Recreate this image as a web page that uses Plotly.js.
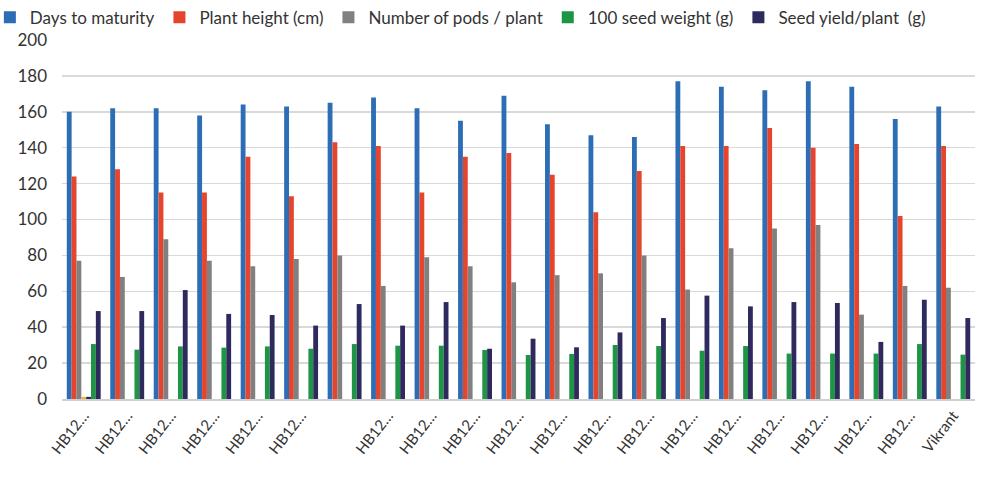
<!DOCTYPE html>
<html><head><meta charset="utf-8">
<script src="https://cdn.plot.ly/plotly-3.0.1.min.js"></script>
<style>html,body{margin:0;padding:0;background:#fff}</style>
</head><body>
<div id="chart" style="width:984px;height:477px"></div>
<script>
const positions = [1,2,3,4,5,6,7,8,9,10,11,12,13,14,15,16,17,18,19,20,21];
const tickLabels = ["HB12…","HB12…","HB12…","HB12…","HB12…","HB12…","",
  "HB12…","HB12…","HB12…","HB12…","HB12…","HB12…","HB12…","HB12…","HB12…",
  "HB12…","HB12…","HB12…","HB12…","Vikrant"];
const daysToMaturity = [160,162,162,158,164,163,165,168,162,155,169,153,147,146,177,174,172,177,174,156,163];
const plantHeight = [124,128,115,115,135,113,143,141,115,135,137,125,104,127,141,141,151,140,142,102,141];
const podsPerPlant = [77,68,89,77,74,78,80,63,79,74,65,69,70,80,61,84,95,97,47,63,62];
const hiddenA = [1.2,null,null,null,null,null,null,null,null,null,null,null,null,null,null,null,null,null,null,null,null];
const hiddenB = [1.2,null,null,null,null,null,null,null,null,null,null,null,null,null,null,null,null,null,null,null,null];
const seedWeight100 = [30.6,27.5,29.3,28.6,29.3,28.0,30.6,29.7,29.7,27.3,24.5,25.1,30.1,29.5,26.9,29.5,25.3,25.3,25.3,30.6,24.7];
const seedYield = [49,49,60.7,47.4,46.8,40.9,52.9,40.9,54,28,33.6,28.8,37.1,45.1,57.6,51.6,54,53.5,31.8,55.3,45.1];

const seriesNames = ["Days to maturity","Plant height (cm)","Number of pods / plant","","","100 seed weight (g)","Seed yield/plant  (g)"];
const seriesValues = [daysToMaturity, plantHeight, podsPerPlant, hiddenA, hiddenB, seedWeight100, seedYield];
const colors = ["#2D6DB5","#E5452D","#808080","#F0B43C","#2E2A64","#1E9445","#2E2A5E"];

const data = seriesValues.map((v,i)=>({
  type:"bar", x:positions, y:v, name:seriesNames[i],
  marker:{color:colors[i]}, showlegend: seriesNames[i] !== "",
  hoverinfo:"y"
}));

const layout = {
  width:984, height:477,
  paper_bgcolor:"#ffffff", plot_bgcolor:"#ffffff",
  margin:{l:62, r:9, t:40, b:78, autoexpand:false},
  barmode:"group", bargap:0.22, bargroupgap:0,
  font:{family:"Lato, 'Open Sans', sans-serif", color:"#333333"},
  showlegend:true,
  legend:{orientation:"h", x:-0.079, xanchor:"left", y:1.012, yanchor:"bottom",
    font:{size:17, color:"#333"}, itemwidth:30, tracegroupgap:0, traceorder:"normal",
    bgcolor:"rgba(0,0,0,0)"},
  xaxis:{type:"linear", range:[0.5,21.5], tickmode:"array", tickvals:positions, ticktext:tickLabels,
    tickangle:-52, tickfont:{size:15, color:"#333"}, showgrid:false, zeroline:false,
    showline:true, linecolor:"#d0d0d0", linewidth:2, ticks:""},
  yaxis:{range:[0,200], tickmode:"linear", tick0:0, dtick:20, tickfont:{size:17, color:"#333"},
    showgrid:true, gridcolor:"#d9d9d9", gridwidth:1.5, zeroline:false, showline:false,
    ticklabelstandoff:14}
};
Plotly.newPlot("chart", data, layout, {displayModeBar:false, staticPlot:true});
</script>
</body></html>
